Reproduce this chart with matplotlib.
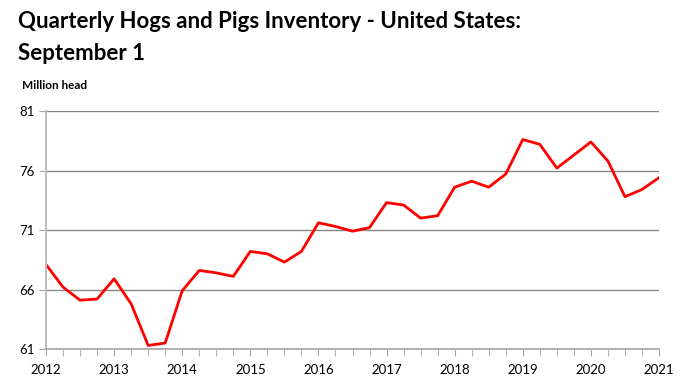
import numpy as np
import matplotlib
matplotlib.use('Agg')
import matplotlib.pyplot as plt

plt.rcParams['font.family'] = ['Lato', 'DejaVu Sans']

# quarterly inventory, Sept 2012 .. Sept 2021 (million head)
inventory = [68.1, 66.2, 65.1, 65.2, 66.9, 64.8, 61.3, 61.5,
             65.9, 67.6, 67.4, 67.1, 69.2, 69.0, 68.3, 69.2,
             71.6, 71.3, 70.9, 71.2, 73.3, 73.1, 72.0, 72.2,
             74.6, 75.1, 74.6, 75.7, 78.6, 78.2, 76.2, 77.3,
             78.4, 76.8, 73.8, 74.4, 75.4]
start_year = 2012
years = list(range(2012, 2022))
yticks = [61, 66, 71, 76, 81]

x = start_year + np.arange(len(inventory)) * 0.25

fig = plt.figure(figsize=(6.88, 3.82), dpi=100)
ax = fig.add_axes([46/688, 33/382, 613/688, 238/382])

ax.plot(x, inventory, color='#FF0000', lw=2)

ax.set_xlim(2012, 2021)
ax.set_ylim(61, 81)
ax.set_yticks(yticks)
ax.set_xticks(years)
ax.set_xticks(x, minor=True)
ax.grid(axis='y', color='#868686', lw=1)
ax.set_axisbelow(True)

for s in ['top', 'right']:
    ax.spines[s].set_visible(False)
ax.spines['left'].set_color('#BFBFBF')
ax.spines['left'].set_linewidth(1.5)
ax.spines['bottom'].set_color('#A6A6A6')
ax.spines['bottom'].set_linewidth(1.2)
ax.tick_params(axis='y', length=5, color='#A6A6A6', labelsize=9.5, pad=3)
ax.tick_params(axis='x', which='both', length=5, color='#A6A6A6', labelsize=9.5, pad=6)

fig.text(18/688, 1 - 28/382, 'Quarterly Hogs and Pigs Inventory - United States:',
         fontsize=16, fontweight='bold', va='baseline')
fig.text(18/688, 1 - 60/382, 'September 1', fontsize=16, fontweight='bold', va='baseline')
fig.text(22/688, 1 - 89/382, 'Million head', fontsize=8.5, fontweight='bold', va='baseline')

fig.savefig('out.png', dpi=100)
